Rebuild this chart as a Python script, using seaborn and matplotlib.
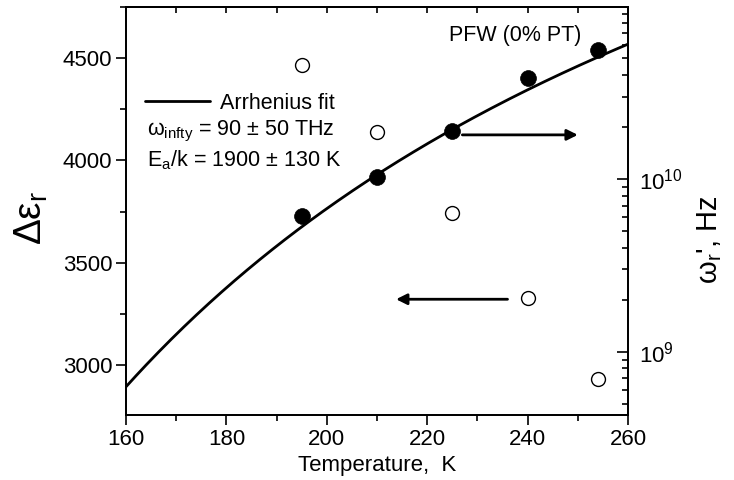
import numpy as np
import pandas as pd
import matplotlib
matplotlib.use("Agg")
import matplotlib.pyplot as plt
import seaborn as sns
from matplotlib.ticker import MultipleLocator, LogLocator, NullFormatter, LogFormatterSciNotation

# Measured points (PFW, 0% PT)
temperature = [195, 210, 225, 240, 254]
delta_eps = [4466, 4137, 3741, 3325, 2932]          # relaxation strength (left axis)
omega_r = [6.1e9, 1.02e10, 1.9e10, 3.85e10, 5.6e10]  # relaxation frequency, Hz (right axis)

# Arrhenius fit parameters
omega_inf = 90e12   # Hz
ea_over_k = 1900.0  # K

sns.set_style("ticks")
plt.rcParams["font.family"] = ["Liberation Sans", "DejaVu Sans"]
plt.rcParams["mathtext.default"] = "regular"
for key in ("text.color", "axes.labelcolor", "xtick.color", "ytick.color", "axes.edgecolor"):
    plt.rcParams[key] = "black"

FS = 15.5

fig = plt.figure(figsize=(7.34, 4.8), dpi=100)
ax = fig.add_axes([126 / 734, 1 - 415 / 480, 502 / 734, 408 / 480])
ax2 = ax.twinx()

pts = pd.DataFrame({"T": temperature, "eps": delta_eps, "omega": omega_r})
t_fit = np.linspace(160, 260, 200)
fit = pd.DataFrame({"T": t_fit, "omega": omega_inf * np.exp(-ea_over_k / t_fit)})

# open circles: dielectric strength on the left axis
sns.scatterplot(data=pts, x="T", y="eps", ax=ax, s=100, marker="o",
                facecolor="white", edgecolor="black", linewidth=1.0, zorder=3)

# filled circles + Arrhenius fit on the right (log) axis
sns.lineplot(data=fit, x="T", y="omega", ax=ax2, color="black", linewidth=2.0,
             label="Arrhenius fit", zorder=2)
sns.scatterplot(data=pts, x="T", y="omega", ax=ax2, s=130, marker="o",
                color="black", edgecolor="black", linewidth=0.5, zorder=4)

ax.set_xlim(160, 260)
ax.set_ylim(2755, 4750)
ax2.set_yscale("log")
ax2.set_ylim(4.3e8, 9.9e10)

# ticks
ax.xaxis.set_major_locator(MultipleLocator(20))
ax.xaxis.set_minor_locator(MultipleLocator(10))
ax.yaxis.set_major_locator(MultipleLocator(500))
ax.yaxis.set_minor_locator(MultipleLocator(250))
ax.tick_params(axis="x", which="major", direction="out", length=7, width=1.2,
               labelsize=16, pad=3, top=False)
ax.tick_params(axis="x", which="minor", direction="out", length=4, width=1.2, top=False)
ax.tick_params(axis="y", which="major", direction="out", length=7, width=1.2,
               labelsize=16, pad=3, right=False)
ax.tick_params(axis="y", which="minor", direction="out", length=4, width=1.2, right=False)

# top ticks pointing inward, unlabeled
top = ax.secondary_xaxis("top")
top.xaxis.set_major_locator(MultipleLocator(10))
top.tick_params(axis="x", direction="in", length=4, width=1.2, labeltop=False)
top.spines["top"].set_linewidth(1.3)

ax2.yaxis.set_major_locator(LogLocator(base=10, numticks=10))
ax2.yaxis.set_minor_locator(LogLocator(base=10, subs=np.arange(2, 10), numticks=10))
ax2.yaxis.set_major_formatter(LogFormatterSciNotation())
ax2.yaxis.set_minor_formatter(NullFormatter())
ax2.tick_params(axis="y", which="major", direction="in", length=8, width=1.2,
                labelsize=16, pad=8)
ax2.tick_params(axis="y", which="minor", direction="in", length=4, width=1.2)

for a in (ax, ax2):
    for s in a.spines.values():
        s.set_linewidth(1.3)
        s.set_color("black")

ax.set_xlabel("Temperature,  K", fontsize=16, labelpad=4)
ax.set_ylabel("Δε$_r$", fontsize=28)
ax.yaxis.set_label_coords(-0.151, 0.483)
ax2.set_ylabel("ω$_r$', Hz", fontsize=21, rotation=90)
ax2.yaxis.set_label_coords(1.133, 0.43)

# legend and fit parameters
leg = ax2.legend(loc="upper left", bbox_to_anchor=(0.038, 0.79), frameon=False,
                 fontsize=FS, handlelength=3.0, handletextpad=0.5, borderpad=0,
                 borderaxespad=0)
for t in leg.get_texts():
    t.set_color("black")
ax2.text(0.042, 0.696, "ω$_{infty}$ = 90 ± 50 THz", transform=ax2.transAxes,
         fontsize=FS, va="center", ha="left")
ax2.text(0.042, 0.625, "E$_a$/k = 1900 ± 130 K", transform=ax2.transAxes,
         fontsize=FS, va="center", ha="left")
ax2.text(0.775, 0.931, "PFW (0% PT)", transform=ax2.transAxes,
         fontsize=FS, va="center", ha="center")

# arrows pointing to the axis each series belongs to
ax2.annotate("", xy=(250, 1.8e10), xytext=(227, 1.8e10),
             arrowprops=dict(arrowstyle="-|>", color="black", lw=2,
                             mutation_scale=16, shrinkA=0, shrinkB=0))
ax.annotate("", xy=(213.8, 3321), xytext=(236, 3321),
            arrowprops=dict(arrowstyle="-|>", color="black", lw=2,
                            mutation_scale=16, shrinkA=0, shrinkB=0))

fig.savefig("out.png", dpi=100)
